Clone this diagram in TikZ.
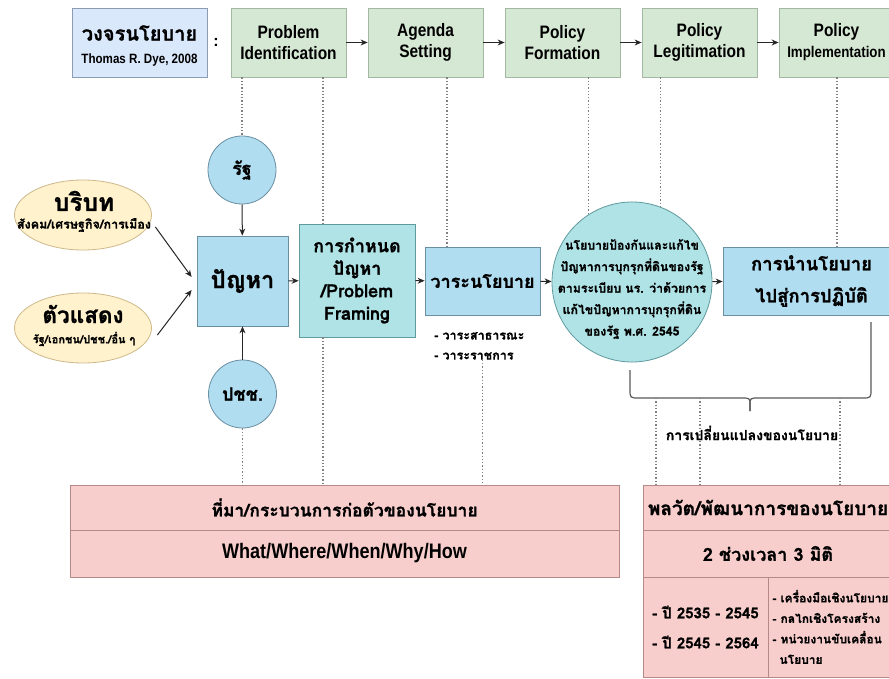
\documentclass[tikz,border=0pt]{standalone}
\usepackage{fontspec}
\setmainfont{Liberation Sans}
\newfontfamily\thai[Script=Thai, BoldFeatures={FakeBold=1.0}]{Loma}
\newfontfamily\lat[FakeStretch=0.86]{Liberation Sans}
\usetikzlibrary{arrows.meta,calc,shapes.geometric}
\definecolor{tbfill}{HTML}{DAE8FC}\definecolor{tbdraw}{HTML}{8C9DB3}
\definecolor{gfill}{HTML}{D5E8D4}\definecolor{gdraw}{HTML}{A3B8A1}
\definecolor{bfill}{HTML}{B1DDF0}\definecolor{bdraw}{HTML}{6A8FA3}
\definecolor{tfill}{HTML}{B0E3E6}\definecolor{tdraw}{HTML}{5F9A9E}
\definecolor{yfill}{HTML}{FFF2CC}\definecolor{ydraw}{HTML}{CDB98A}
\definecolor{pfill}{HTML}{F8CECC}\definecolor{pdraw}{HTML}{B58987}
\definecolor{dotc}{HTML}{808080}
\begin{document}
\begin{tikzpicture}[x=1pt,y=-1pt,
  box/.style={draw, line width=0.8pt, inner sep=0pt, align=center},
  gbox/.style={box, fill=gfill, draw=gdraw, minimum width=115pt, minimum height=69pt,
    font=\lat\bfseries\fontsize{18}{21}\selectfont},
  bbox/.style={box, fill=bfill, draw=bdraw},
  tbox/.style={box, fill=tfill, draw=tdraw},
  pbox/.style={box, fill=pfill, draw=pdraw},
  bcirc/.style={circle, draw=bdraw, fill=bfill, line width=0.8pt, inner sep=0pt, minimum size=68pt},
  yell/.style={ellipse, draw=ydraw, fill=yfill, line width=0.8pt, inner sep=0pt,
    minimum width=137pt, minimum height=70pt},
  arr/.style={-{Stealth[length=7pt,width=6pt]}, line width=1pt, black!85},
  dotl/.style={dotted, line width=1.3pt, dotc},
  brace/.style={line width=1.2pt, black!65},
  th/.style={font=\thai\bfseries\fontsize{#1}{#1}\selectfont}
]
\useasboundingbox (0,0) rectangle (889,679);
\fill[white] (0,0) rectangle (889,679);

% top row
\node[box, fill=tbfill, draw=tbdraw, minimum width=135pt, minimum height=69pt] (title) at (139.5,42.5) {};
\node[th=20, inner sep=0pt] (titleA) at (139.5,33) {วงจรนโยบาย};
\node[font=\lat\bfseries\fontsize{13.5}{14}\selectfont, inner sep=0pt] (titleB) at (139.5,60) {Thomas R. Dye, 2008};
\node[font=\bfseries\fontsize{16}{18}\selectfont] (colon) at (216,42) {:};
\node[gbox] (PI) at (288.5,42.5) {Problem\\Identification};
\node[gbox] (AS) at (425.5,42.5) {Agenda\\Setting};
\node[gbox] (PF) at (562.5,42.5) {Policy\\Formation};
\node[gbox] (PL) at (699.5,42.5) {Policy\\Legitimation};
\node[gbox] (PM) at (836.5,42.5) {Policy\\{\fontsize{15.5}{21}\selectfont Implementation}};
\draw[arr] (PI) -- (AS);
\draw[arr] (AS) -- (PF);
\draw[arr] (PF) -- (PL);
\draw[arr] (PL) -- (PM);

% middle row
\node[bcirc, th=18] (rs) at (242,170) {รัฐ};
\node[bcirc, th=18] (pc) at (242.5,394) {ปชช.};
\node[bbox, minimum width=91pt, minimum height=90pt, th=23.5] (prob) at (242.5,281) {ปัญหา};
\node[yell] (ctx) at (83,215) {};
\node[th=24.5, inner sep=0pt] (ctxA) at (84,201) {บริบท};
\node[th=12.5, inner sep=0pt] (ctxB) at (84,225) {สังคม/เศรษฐกิจ/การเมือง};
\node[yell] (act) at (83,328) {};
\node[th=22.5, inner sep=0pt] (actA) at (83,314) {ตัวแสดง};
\node[th=11, inner sep=0pt] (actB) at (84,339) {รัฐ/เอกชน/ปชช./อื่น ๆ};
\node[tbox, minimum width=116pt, minimum height=113pt, font=\thai\bfseries\fontsize{18}{22.5}\selectfont] (pfr) at (357,280.5)
  {การกำหนด\\ปัญหา\\/Problem\\Framing};
\node[bbox, minimum width=115pt, minimum height=68pt, th=18] (agenda) at (482.5,281) {วาระนโยบาย};
\node[anchor=north west, align=left, font=\thai\bfseries\fontsize{12.5}{20}\selectfont, inner sep=0pt] (agtext) at (434,332)
  {- วาระสาธารณะ\\- วาระราชการ};
\node[circle, draw=tdraw, fill=tfill, line width=0.8pt, inner sep=0pt, minimum size=160pt] (circ) at (632,282) {};
\node[align=center, inner sep=0pt, font=\thai\bfseries\fontsize{12.3}{21.5}\selectfont] (circT) at (632,289)
  {นโยบายป้องกันและแก้ไข\\ปัญหาการบุกรุกที่ดินของรัฐ\\ตามระเบียบ นร. ว่าด้วยการ\\แก้ไขปัญหาการบุกรุกที่ดิน\\ของรัฐ พ.ศ. 2545};
\node[bbox, minimum width=177pt, minimum height=68pt, font=\thai\bfseries\fontsize{18.5}{32}\selectfont] (impl) at (811.5,281)
  {การนำนโยบาย\\ไปสู่การปฏิบัติ};

\draw[arr] (rs) -- (prob);
\draw[arr] (pc) -- (prob);
\draw[arr] ([shift={(3.5,12)}]ctx.east) -- ([shift={(-5,-4)}]prob.west);
\draw[arr] ([shift={(5.5,7)}]act.east) -- ([shift={(-5,9)}]prob.west);
\draw[arr] (prob) -- (pfr);
\draw[arr] (pfr) -- (agenda);
\draw[arr] (agenda) -- (circ);
\draw[arr] (circ) -- (impl);

% bottom boxes
\node[pbox, minimum width=549pt, minimum height=45pt, th=17.5] (lp1) at (344.5,507.5) {ที่มา/กระบวนการก่อตัวของนโยบาย};
\node[pbox, minimum width=549pt, minimum height=47pt, font=\lat\bfseries\fontsize{21}{22}\selectfont] (lp2) at (344.5,553.5) {What/Where/When/Why/How};
\node[pbox, minimum width=250pt, minimum height=45pt, th=19] (rp1) at (768,507.5) {พลวัต/พัฒนาการของนโยบาย};
\node[pbox, minimum width=250pt, minimum height=47pt, th=18] (rp2) at (768,553.5) {2 ช่วงเวลา 3 มิติ};
\node[pbox, minimum width=125pt, minimum height=100pt, align=left, font=\thai\bfseries\fontsize{15}{30}\selectfont] (rp3a) at (705.5,627)
  {- ปี 2535 - 2545\\- ปี 2545 - 2564};
\node[pbox, minimum width=125pt, minimum height=100pt, align=left, font=\thai\bfseries\fontsize{12}{20.5}\selectfont] (rp3b) at (830.5,627)
  {- เครื่องมือเชิงนโยบาย\\- กลไกเชิงโครงสร้าง\\- หน่วยงานขับเคลื่อน\\\hspace*{7pt}นโยบาย};

% brace
\coordinate (bL) at (630,370);
\coordinate (bR) at (871,322);
\coordinate (bM) at (750,411);
\draw[brace] (bL) -- (630,389) .. controls (630,398) .. (639,398) -- (741,398) .. controls (750,398) .. (750,405) -- (bM);
\draw[brace] (bM) -- (750,405) .. controls (750,398) .. (759,398) -- (862,398) .. controls (871,398) .. (871,389) -- (bR);
\node[th=14] (chg) at (752,433) {การเปลี่ยนแปลงของนโยบาย};

% dotted guide lines
\coordinate (pfrT) at ($(pfr.north)+(-34,0)$);
\coordinate (pfrB) at ($(pfr.south)+(-34,0)$);
\coordinate (agT) at ($(agenda.north)+(-35.5,0)$);
\coordinate (imT) at ($(impl.north)+(25.5,0)$);
\coordinate (d1) at (656,398);
\coordinate (d2) at (700,398);
\coordinate (d3) at (840,398);
\draw[dotl] (rs.north |- PI.south) -- (rs.north);
\draw[dotl] (pfrT |- PI.south) -- (pfrT);
\draw[dotl] (agT |- AS.south) -- (agT);
\draw[dotl] (circ.123 |- PF.south) -- (circ.123);
\draw[dotl] (circ.69.5 |- PL.south) -- (circ.69.5);
\draw[dotl] (imT |- PM.south) -- (imT);
\draw[dotl] (pc.south) -- (pc.south |- lp1.north);
\draw[dotl] (pfrB) -- (pfrB |- lp1.north);
\draw[dotl] (agenda.south |- agtext.south) -- (agenda.south |- lp1.north);
\draw[dotl] (d1) -- (d1 |- rp1.north);
\draw[dotl] (d2) -- (d2 |- rp1.north);
\draw[dotl] (d3) -- (d3 |- rp1.north);
\end{tikzpicture}
\end{document}
